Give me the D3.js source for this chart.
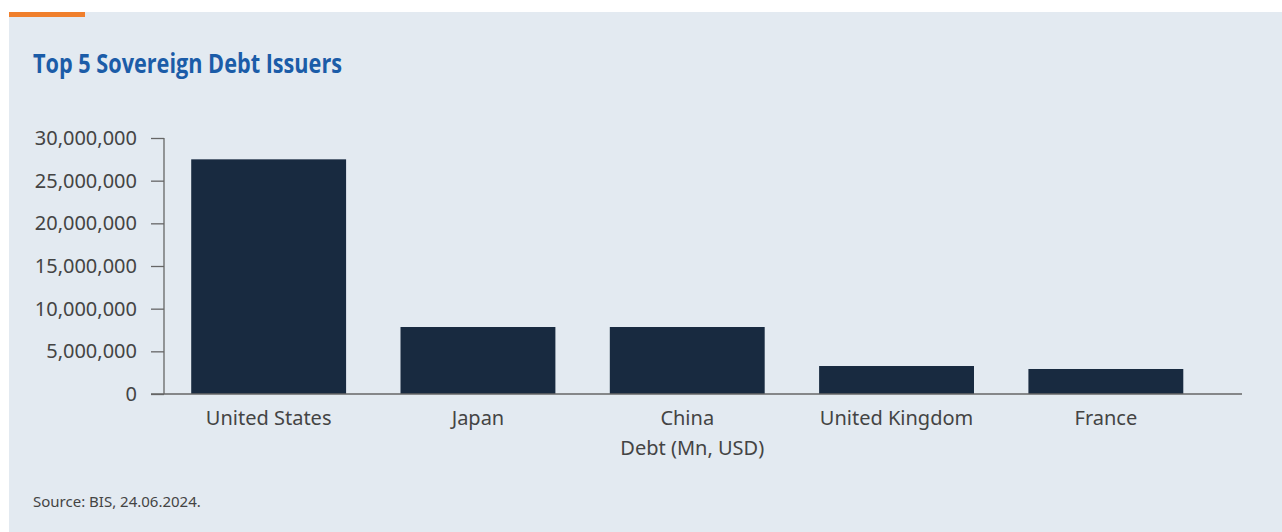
<!DOCTYPE html>
<html>
<head>
<meta charset="utf-8">
<script src="https://cdn.jsdelivr.net/npm/d3@7"></script>
<style>
  html, body { margin: 0; padding: 0; background: #ffffff; }
  #vis-tag { width: 1282px; height: 532px; }
</style>
</head>
<body>
<div id="vis-tag"></div>
<script>
// data
const countries = ["United States", "Japan", "China", "United Kingdom", "France"];
const debtMn = [27500000, 7850000, 7850000, 3280000, 2930000];
const yTicks = [0, 5000000, 10000000, 15000000, 20000000, 25000000, 30000000];

const width = 1282;
const height = 532;
const margin = { top: 138, right: 40, bottom: 138, left: 164 };
const labelFont = "'Noto Sans', sans-serif";
const textColor = "#444";

const svg = d3.select("#vis-tag")
  .append("svg")
  .attr("width", width)
  .attr("height", height);

// panel background + orange accent
svg.append("rect")
  .attr("x", 9).attr("y", 12)
  .attr("width", width - 9).attr("height", height - 12)
  .attr("fill", "#e3eaf1");
svg.append("rect")
  .attr("x", 9).attr("y", 12)
  .attr("width", 76).attr("height", 5)
  .attr("fill", "#f07f2c");

// title
svg.append("text")
  .attr("x", 33).attr("y", 73)
  .attr("fill", "#1b5ca8")
  .attr("font-family", "'Open Sans', sans-serif")
  .attr("font-weight", "bold")
  .attr("font-size", 26)
  .attr("textLength", 309)
  .attr("lengthAdjust", "spacingAndGlyphs")
  .text("Top 5 Sovereign Debt Issuers");

// scales (bars use a step of ~209px, the axis line runs on to 1242)
const step = 209.3;
const x = d3.scaleBand()
  .domain(countries)
  .range([margin.left, margin.left + countries.length * step])
  .paddingInner(0.26)
  .paddingOuter(0.13);

const y = d3.scaleLinear()
  .domain([0, 30000000])
  .range([height - margin.bottom, margin.top]);

// bars
svg.append("g")
  .selectAll("rect")
  .data(countries)
  .enter()
  .append("rect")
  .attr("x", d => x(d))
  .attr("y", (d, i) => y(debtMn[i]))
  .attr("width", x.bandwidth())
  .attr("height", (d, i) => y(0) - y(debtMn[i]))
  .attr("fill", "#182a40");

// y axis
const yAxis = svg.append("g")
  .attr("transform", `translate(${margin.left},0)`)
  .call(d3.axisLeft(y).tickValues(yTicks).tickFormat(d3.format(",")).tickSize(13).tickPadding(14));
yAxis.selectAll("path, line").attr("stroke", "#666").attr("stroke-width", 1.3);
yAxis.selectAll("text")
  .attr("fill", textColor)
  .attr("font-family", labelFont)
  .attr("font-size", 20);
yAxis.select(".domain").attr("d", `M0,${y(30000000)}V${y(0)}`);

// x axis
const xAxis = svg.append("g")
  .attr("transform", `translate(0,${y(0)})`)
  .call(d3.axisBottom(x).tickSize(0).tickPadding(17));
xAxis.select(".domain")
  .attr("d", `M${margin.left - 13},0H${width - margin.right}`)
  .attr("stroke", "#666").attr("stroke-width", 1.3);
xAxis.selectAll("text")
  .attr("fill", textColor)
  .attr("font-family", labelFont)
  .attr("font-size", 20);

// x axis title
svg.append("text")
  .attr("x", x("China") + x.bandwidth() / 2 + 5)
  .attr("y", 455)
  .attr("text-anchor", "middle")
  .attr("fill", textColor)
  .attr("font-family", labelFont)
  .attr("font-size", 20)
  .text("Debt (Mn, USD)");

// source
svg.append("text")
  .attr("x", 33).attr("y", 507)
  .attr("fill", textColor)
  .attr("font-family", labelFont)
  .attr("font-size", 15)
  .text("Source: BIS, 24.06.2024.");
</script>
</body>
</html>
